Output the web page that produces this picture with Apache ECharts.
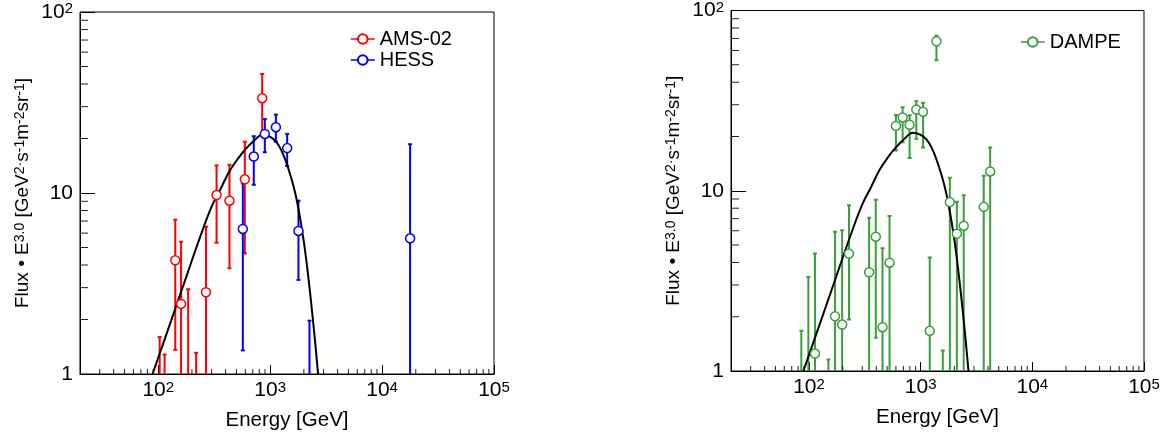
<!DOCTYPE html>
<html>
<head>
<meta charset="utf-8">
<script src="https://cdn.jsdelivr.net/npm/echarts@6/dist/echarts.min.js"></script>
<style>
html, body { margin: 0; padding: 0; background: #fff; }
#chart { width: 1166px; height: 439px; }
</style>
</head>
<body>
<div id="chart"></div>
<script>
// model curve
var curveE = [89, 130, 180, 240, 300, 360, 430, 520, 600, 720, 850, 1000, 1130, 1250, 1380, 1550, 1700, 1900, 2100, 2400, 2680];
var curveV = [1.0, 1.96, 3.51, 5.85, 8.4, 10.5, 13.1, 15.6, 17.4, 19.5, 21.0, 20.4, 19.2, 17.4, 15.0, 12.0, 9.6, 6.6, 4.3, 2.05, 1.0];

// AMS-02 (null = point below the axis, only the bar shows)
var amsE  = [103, 114, 142, 160, 185, 218, 267, 332, 433, 594, 849];
var amsV  = [null, null, 4.25, 2.44, null, null, 2.83, 9.75, 9.07, 11.9, 33.4];
var amsLo = [0.5, 0.5, 1.36, 0.5, 0.5, 0.5, 0.5, 5.31, 3.84, 4.64, 21.4];
var amsHi = [1.60, 1.28, 7.12, 5.38, 2.94, 1.31, 6.51, 14.2, 14.3, 19.2, 45.5];

// HESS
var hessE  = [570, 714, 896, 1125, 1419, 1790, 2245, 17800];
var hessV  = [6.33, 15.9, 21.2, 23.1, 17.7, 6.17, null, 5.62];
var hessLo = [1.35, 11.1, 16.8, 19.2, 14.1, 3.31, 0.5, 0.5];
var hessHi = [11.3, 20.6, 25.6, 27.1, 21.2, 9.07, 1.97, 18.6];

// DAMPE
var dampeE  = [85.3, 98.6, 113, 149, 171, 198, 228, 345, 396, 455, 526, 600, 689, 796, 914, 1050, 1205, 1384, 1578, 1824, 2108, 2428, 3670, 4190];
var dampeV  = [null, null, 1.25, null, 2.01, 1.81, 4.48, 3.53, 5.56, 1.75, 3.99, 22.9, 25.5, 23.2, 28.2, 27.4, 1.67, 67.5, null, 8.65, 5.78, 6.40, 8.14, 12.8];
var dampeLo = [0.5, 0.5, 0.5, 0.5, 0.5, 0.5, 1.93, 0.5, 1.53, 0.5, 0.5, 16.7, 18.6, 15.2, 19.4, 17.4, 0.5, 53.0, 0.5, 0.5, 0.5, 0.5, 0.5, 0.5];
var dampeHi = [1.67, 3.32, 4.49, 1.16, 5.93, 6.04, 8.32, 7.08, 8.90, 4.80, 7.24, 26.3, 29.1, 26.2, 31.4, 30.8, 4.26, 72.5, 1.30, 11.8, 8.68, 9.45, 12.1, 17.4];

// axis ranges and minor ticks
var xMin = 20, xMax = 100000;
var yMin = 1, yMax = 100;
var tickMantissa = [2, 3, 4, 5, 6, 7, 8, 9];
var xDecades = [10, 100, 1000, 10000];
var yDecades = [1, 10];

var RED = '#ff0000', BLUE = '#0000ff', GREEN = '#3a9e3a';
var FONT = 'Liberation Sans, Arial, Helvetica, sans-serif';

var dom = document.getElementById('chart');
var myChart = echarts.init(dom);

function pairs(xs, ys) {
    var res = [];
    for (var i = 0; i < xs.length; i++) {
        if (ys[i] !== null) res.push([xs[i], ys[i]]);
    }
    return res;
}
function triples(xs, lo, hi) {
    var res = [];
    for (var i = 0; i < xs.length; i++) res.push([xs[i], lo[i], hi[i]]);
    return res;
}

var xMinorData = [], yMinorData = [];
xDecades.forEach(function (d) {
    tickMantissa.forEach(function (m) {
        var v = m * d;
        if (v > xMin && v < xMax) xMinorData.push([v, yMin]);
    });
});
yDecades.forEach(function (d) {
    tickMantissa.forEach(function (m) { yMinorData.push([xMin, m * d]); });
});

function errRender(params, api) {
    var x = api.value(0);
    var top = api.coord([x, api.value(2)]);
    var bot = api.coord([x, api.value(1)]);
    var c = api.visual('color');
    var st = { stroke: c, lineWidth: 2 };
    return {
        type: 'group',
        children: [
            { type: 'line', shape: { x1: top[0], y1: top[1], x2: bot[0], y2: bot[1] }, style: st },
            { type: 'line', shape: { x1: top[0] - 2, y1: top[1], x2: top[0] + 2, y2: top[1] }, style: st },
            { type: 'line', shape: { x1: bot[0] - 2, y1: bot[1], x2: bot[0] + 2, y2: bot[1] }, style: st }
        ]
    };
}
function xMinorRender(params, api) {
    var p = api.coord([api.value(0), api.value(1)]);
    return { type: 'line', shape: { x1: p[0], y1: p[1], x2: p[0], y2: p[1] - 5 }, style: { stroke: '#222', lineWidth: 1 } };
}
function yMinorRender(params, api) {
    var p = api.coord([api.value(0), api.value(1)]);
    return { type: 'line', shape: { x1: p[0], y1: p[1], x2: p[0] + 8, y2: p[1] }, style: { stroke: '#222', lineWidth: 1 } };
}

var supRich = { s: { fontSize: 15, verticalAlign: 'top', padding: [0, 0, 6, 0], fontFamily: FONT, color: '#000' } };
var titleRich = { s: { fontSize: 14, verticalAlign: 'top', fontFamily: FONT, color: '#000' } };

function pow10Label(v) {
    var e = Math.round(Math.log(v) / Math.LN10);
    if (Math.abs(v - Math.pow(10, e)) > 1e-6 * v) return '';
    if (e === 0) return '1';
    if (e === 1) return '10';
    return '10{s|' + e + '}';
}

function makeX(i) {
    return {
        type: 'log', gridIndex: i, min: xMin, max: xMax, logBase: 10,
        name: 'Energy [GeV]', nameLocation: 'middle', nameGap: 36,
        nameTextStyle: { fontSize: 20.5, fontFamily: FONT, color: '#000' },
        axisLine: { lineStyle: { color: '#000', width: 1 } },
        axisTick: { inside: true, length: 9, lineStyle: { color: '#000' } },
        axisLabel: { fontSize: 21, fontFamily: FONT, color: '#000', margin: 6, formatter: pow10Label, rich: supRich, showMinLabel: false },
        splitLine: { show: false }
    };
}
function makeY(i) {
    return {
        type: 'log', gridIndex: i, min: yMin, max: yMax, logBase: 10,
        name: 'Flux \u2022 E{s|3.0} [GeV{s|2\u00b7}s{s|-1}m{s|-2}sr{s|-1}]',
        nameLocation: 'middle', nameGap: 48,
        nameTextStyle: { fontSize: 19, fontFamily: FONT, color: '#000', rich: titleRich },
        axisLine: { lineStyle: { color: '#000', width: 1 } },
        axisTick: { inside: true, length: 15, lineStyle: { color: '#000' } },
        axisLabel: { fontSize: 21, fontFamily: FONT, color: '#000', margin: 7, formatter: pow10Label, rich: supRich },
        splitLine: { show: false }
    };
}

function pointSeries(name, i, data, color) {
    return {
        name: name, type: 'line', xAxisIndex: i, yAxisIndex: i, data: data,
        symbol: 'circle', symbolSize: 9, showSymbol: true, z: 5, clip: true,
        lineStyle: { color: color, width: 1.5, opacity: 0 },
        itemStyle: { color: '#fff', borderColor: color, borderWidth: 1.5 },
        emphasis: { disabled: true }
    };
}
function errSeries(name, i, data, color) {
    return {
        name: name, type: 'custom', xAxisIndex: i, yAxisIndex: i, data: data,
        renderItem: errRender, encode: { x: 0, y: [1, 2] }, clip: true, z: 3,
        itemStyle: { color: color }
    };
}
function curveSeries(i) {
    return {
        name: 'model', type: 'line', xAxisIndex: i, yAxisIndex: i,
        data: pairs(curveE, curveV), smooth: 0.4, showSymbol: false, clip: true, z: 4,
        lineStyle: { color: '#000', width: 2 }
    };
}
function tickSeries(i) {
    return [
        { type: 'custom', xAxisIndex: i, yAxisIndex: i, data: xMinorData, renderItem: xMinorRender, z: 6, silent: true },
        { type: 'custom', xAxisIndex: i, yAxisIndex: i, data: yMinorData, renderItem: yMinorRender, z: 6, silent: true }
    ];
}

var legendCommon = {
    orient: 'vertical', itemWidth: 24, itemHeight: 12, itemGap: 1,
    textStyle: { fontSize: 20, fontFamily: FONT, color: '#000' },
    lineStyle: { opacity: 1, width: 1.5 }
};

option = {
    backgroundColor: '#fff',
    animation: false,
    grid: [
        { left: 80, top: 12, width: 414, height: 362, show: true, borderColor: '#000', borderWidth: 1 },
        { left: 731, top: 8, width: 413, height: 363, show: true, borderColor: '#000', borderWidth: 1 }
    ],
    legend: [
        Object.assign({ data: ['AMS-02', 'HESS'], left: 345, top: 24 }, legendCommon),
        Object.assign({ data: ['DAMPE'], left: 1015, top: 27 }, legendCommon)
    ],
    xAxis: [makeX(0), makeX(1)],
    yAxis: [makeY(0), makeY(1)],
    series: [
        curveSeries(0),
        errSeries('AMS-02 err', 0, triples(amsE, amsLo, amsHi), RED),
        errSeries('HESS err', 0, triples(hessE, hessLo, hessHi), BLUE),
        pointSeries('AMS-02', 0, pairs(amsE, amsV), RED),
        pointSeries('HESS', 0, pairs(hessE, hessV), BLUE),
        curveSeries(1),
        errSeries('DAMPE err', 1, triples(dampeE, dampeLo, dampeHi), GREEN),
        pointSeries('DAMPE', 1, pairs(dampeE, dampeV), GREEN)
    ].concat(tickSeries(0), tickSeries(1))
};

if (option && typeof option === 'object') {
    myChart.setOption(option, true);
}
</script>
</body>
</html>
